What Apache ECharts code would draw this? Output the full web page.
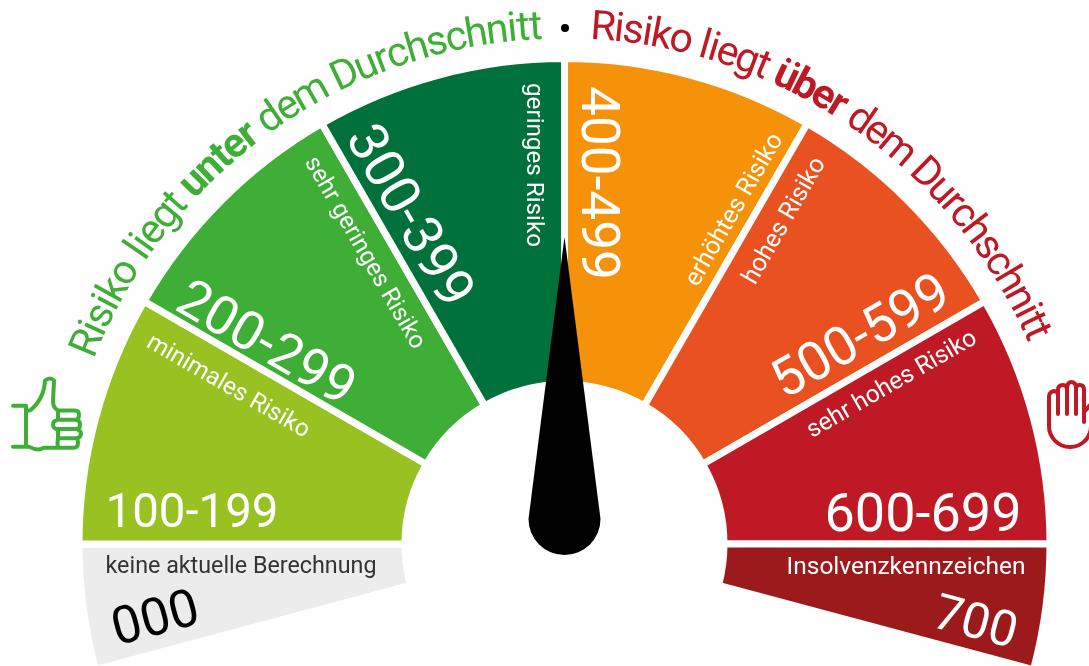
<!DOCTYPE html>
<html>
<head>
<meta charset="utf-8">
<style>
  html, body { margin: 0; padding: 0; background: #fff; }
  #chart { width: 1089px; height: 666px; }
</style>
<script src="https://cdn.jsdelivr.net/npm/echarts@6/dist/echarts.min.js"></script>
</head>
<body>
<div id="chart"></div>
<script>
// score bands, left to right
const rangeLabels = ['000', '100-199', '200-299', '300-399', '400-499', '500-599', '600-699', '700']
const riskLabels = ['keine aktuelle Berechnung', 'minimales Risiko', 'sehr geringes Risiko', 'geringes Risiko', 'erhöhtes Risiko', 'hohes Risiko', 'sehr hohes Risiko', 'Insolvenzkennzeichen']
const bandSpans = [15, 30, 30, 30, 30, 30, 30, 15]
const blankSpan = 150
const needleValue = 400
const titleLow = ['Risiko liegt ', 'unter', ' dem Durchschnitt']
const titleHigh = ['Risiko liegt ', 'über', ' dem Durchschnitt']

const bandColors = ['#ececec', '#97c221', '#3fae37', '#00713a', '#f5920a', '#ea5120', '#be1924', '#9c1a1c']
const rangeColors = ['#000', '#fff', '#fff', '#fff', '#fff', '#fff', '#fff', '#fff']
const riskColors = ['#333', '#fff', '#fff', '#fff', '#fff', '#fff', '#fff', '#fff']

const FONT = 'Roboto, sans-serif'
const CX = 564.5
const CY = 544
const GAP = 7

// text centre x, y, clockwise degrees, target width
const rangeLayout = [
  [155, 617, -15, 88], [192, 511, 0, 173], [267, 342, 30, 196], [411, 215, 60, 200],
  [600, 183, 90, 194], [860, 335, -30, 196], [923, 513, 0, 197], [976, 621, 15, 84]
]
const riskLayout = [
  [241, 565, 0, 271], [229, 385, 30, 184], [366, 252, 60, 218], [535, 165, 90, 164],
  [733, 209, -60, 172], [783, 220, -60, 142], [891, 383, -30, 192], [906, 566, 0, 239]
]

const measure = document.createElement('canvas').getContext('2d')

function widthOf(text, size, weight) {
  measure.font = `${weight} ${size}px ${FONT}`
  return measure.measureText(text).width
}

function fittedText(text, layout, fill, weight) {
  const size = 100 * layout[3] / widthOf(text, 100, weight)
  const rad = layout[2] * Math.PI / 180
  // Roboto sits a little high of 'middle', push it along the text's own down direction
  const drop = size * 0.09
  return {
    type: 'text',
    z: 10,
    x: layout[0] - drop * Math.sin(rad),
    y: layout[1] + drop * Math.cos(rad),
    rotation: -rad,
    style: { text, fill, fontFamily: FONT, fontWeight: weight, fontSize: size, align: 'center', verticalAlign: 'middle' }
  }
}

// one text element per character, laid along the arc
function arcText(parts, fromDeg, toDeg, radius, size, fill) {
  const chars = []
  parts.forEach((part, i) => {
    const weight = i === 1 ? 700 : 400
    part.split('').forEach((ch) => chars.push({ ch, weight, w: widthOf(ch, size, weight) }))
  })
  const total = chars.reduce((sum, c) => sum + c.w, 0)
  const degPerPx = (toDeg - fromDeg) / total
  let run = 0
  return chars.map((c) => {
    const deg = fromDeg + (run + c.w / 2) * degPerPx
    run += c.w
    const rad = deg * Math.PI / 180
    return {
      type: 'text',
      z: 10,
      x: CX + radius * Math.sin(rad),
      y: CY - radius * Math.cos(rad),
      rotation: -rad,
      style: { text: c.ch, fill, fontFamily: FONT, fontWeight: c.weight, fontSize: size, align: 'center', verticalAlign: 'middle' }
    }
  })
}

function icon(pathData, x, y, width, height, stroke) {
  return {
    type: 'path',
    shape: { pathData, x, y, width, height, layout: 'cover' },
    style: { fill: 'none', stroke, lineWidth: 4, lineCap: 'round', lineJoin: 'round' }
  }
}

const thumbPath = 'M13 406.5 H26 V446 H13 M26 446 H29 Q38 451 44 447 H58 M26 411 H30 Q44 400 45 382 Q50 378 54 382 L53 402 Q53 408 58 411 H75 Q79 411 79 415 Q79 420 75 420 H58 Q53 421 53 424.5 Q53 429 58 429 H77 Q81 430 81 434 Q80 438 76 438 H58 Q57 442 58 447 H74 Q78 447 78 442 Q78 438 76 438 M75 420 Q80 420 80 425 Q80 429 76 429 M58 411 V420 M58 429 V438'
const handPath = 'M1049 426 V397 Q1049 392 1054 391 Q1058 391 1058 396 V414 M1058 396 V390 Q1058 385 1063 385 Q1067 385 1067 390 V414 M1067 390 Q1067 382 1071 382 Q1076 382 1076 388 V414 M1076 388 Q1076 385 1080 385 Q1084 385 1084 390 V422 M1084 412 L1092 403 M1049 426 A21 21 0 0 0 1091 426'

const chart = echarts.init(document.getElementById('chart'), null, { renderer: 'canvas' })

const graphicEls = []
rangeLabels.forEach((t, i) => graphicEls.push(fittedText(t, rangeLayout[i], rangeColors[i], 400)))
riskLabels.forEach((t, i) => graphicEls.push(fittedText(t, riskLayout[i], riskColors[i], 400)))
graphicEls.push(...arcText(titleLow, -68.5, -2.5, 516, 41, '#3fae37'))
graphicEls.push(...arcText(titleHigh, 3, 66.5, 516, 41, '#be1924'))
graphicEls.push({
  type: 'circle',
  z: 10,
  shape: { cx: 565, cy: 28, r: 4 },
  style: { fill: '#000' }
})

chart.setOption({
  animation: false,
  backgroundColor: '#fff',
  graphic: { elements: graphicEls },
  series: [
    {
      type: 'pie',
      z: 2,
      center: [CX, CY],
      radius: [163 - GAP / 2, 482 + GAP / 2],
      startAngle: 195,
      clockwise: true,
      silent: true,
      label: { show: false },
      labelLine: { show: false },
      data: bandSpans.map((value, i) => ({
        value,
        name: rangeLabels[i],
        itemStyle: { color: bandColors[i], borderColor: '#fff', borderWidth: GAP }
      })).concat([{ value: blankSpan, name: 'blank', itemStyle: { color: 'transparent' } }])
    },
    {
      type: 'gauge',
      z: 5,
      center: [CX, CY],
      radius: 483,
      startAngle: 180,
      endAngle: 0,
      min: 100,
      max: 700,
      silent: true,
      axisLine: { show: false },
      axisTick: { show: false },
      splitLine: { show: false },
      axisLabel: { show: false },
      anchor: { show: false },
      title: { show: false },
      detail: { show: false },
      pointer: {
        icon: 'path://M36 0 L72 282 A36 36 0 0 1 0 282 Z',
        length: 318,
        width: 72,
        offsetCenter: [0, 11]
      },
      itemStyle: { color: '#000' },
      data: [{ value: needleValue }]
    },
    {
      // thumb and hand icons beside the arc
      type: 'custom',
      coordinateSystem: 'none',
      silent: true,
      data: [0],
      renderItem: () => ({
        type: 'group',
        children: [
          icon(thumbPath, 13, 378.5, 68, 71, '#3fae37'),
          icon(handPath, 1049, 382, 43, 65, '#be1924')
        ]
      })
    }
  ]
})
</script>
</body>
</html>
